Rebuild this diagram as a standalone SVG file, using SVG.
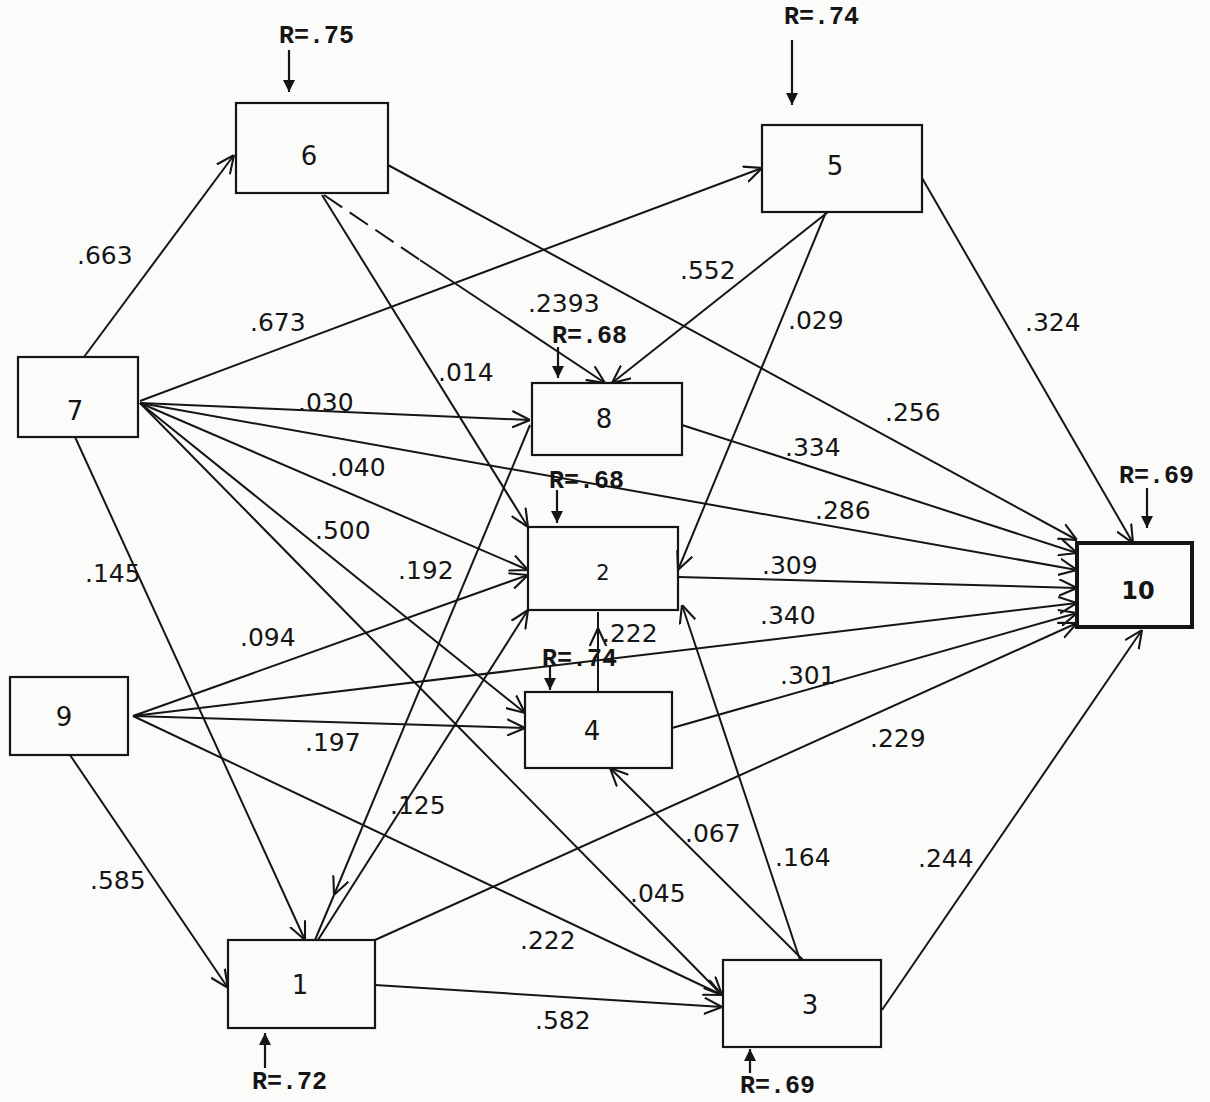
<svg xmlns="http://www.w3.org/2000/svg" width="1210" height="1102" viewBox="0 0 1210 1102">
<defs>
<marker id="a" viewBox="0 0 12 12" refX="12" refY="6" markerWidth="18" markerHeight="18" markerUnits="userSpaceOnUse" orient="auto"><path d="M0,0.5 L12,6 L0,11.5" fill="none" stroke="#151515" stroke-width="1.4"/></marker>
<marker id="f" viewBox="0 0 10 10" refX="10" refY="5" markerWidth="12" markerHeight="12" markerUnits="userSpaceOnUse" orient="auto"><path d="M0,0 L10,5 L0,10 z" fill="#151515"/></marker>
<style>
.box{fill:none;stroke:#151515;stroke-width:2.2}
.c{fill:none;stroke:#151515;stroke-width:2;marker-end:url(#a)}
.p{fill:none;stroke:#151515;stroke-width:2}
.r{fill:none;stroke:#151515;stroke-width:2.2;marker-end:url(#f)}
.n{font-family:"DejaVu Sans","Liberation Sans",sans-serif;font-size:26px;fill:#151515;text-anchor:middle}
.l{font-family:"DejaVu Sans","Liberation Sans",sans-serif;font-size:25px;fill:#151515}
.rt{font-family:"Liberation Mono","DejaVu Sans Mono",monospace;font-size:25px;font-weight:bold;fill:#151515}
</style>
</defs>
<rect width="1210" height="1102" fill="#fbfbf9"/>
<g id="connectors">
<path class="c" d="M84,357 L234,155"/>
<path class="c" d="M140,401 L762,168"/>
<path class="c" d="M140,403 L530,420"/>
<path class="c" d="M140,403 L1077,570"/>
<path class="c" d="M140,403 L528,570"/>
<path class="c" d="M140,403 L525,713"/>
<path class="c" d="M140,403 L722,995"/>
<path class="c" d="M75,437 L305,940"/>
<path class="p" d="M324,195 L420,260" stroke-dasharray="22 9"/>
<path class="c" d="M420,260 L605,383"/>
<path class="c" d="M322,195 L528,527"/>
<path class="c" d="M388,165 L1077,540"/>
<path class="c" d="M828,212 L612,383"/>
<path class="c" d="M826,212 L678,570"/>
<path class="c" d="M922,178 L1133,543"/>
<path class="c" d="M682,425 L1077,553"/>
<path class="c" d="M530,425 L334,895"/>
<path class="p" d="M334,895 L315,940"/>
<path class="c" d="M318,940 L528,610"/>
<path class="c" d="M375,940 L1077,623"/>
<path class="c" d="M375,985 L722,1007"/>
<path class="c" d="M70,755 L228,988"/>
<path class="c" d="M133,716 L528,575"/>
<path class="c" d="M133,716 L1077,603"/>
<path class="c" d="M133,716 L525,728"/>
<path class="c" d="M133,716 L722,995"/>
<path class="c" d="M678,577 L1077,588"/>
<path class="c" d="M598,692 L598,628"/>
<path class="p" d="M598,628 L598,612"/>
<path class="c" d="M672,728 L1077,613"/>
<path class="c" d="M803,960 L610,768"/>
<path class="c" d="M800,960 L682,605"/>
<path class="c" d="M882,1010 L1142,630"/>
<path class="r" d="M289,50 L289,92"/>
<path class="r" d="M792,40 L792,105"/>
<path class="r" d="M558,347 L558,378"/>
<path class="r" d="M557,490 L557,523"/>
<path class="r" d="M550,665 L550,690"/>
<path class="r" d="M1147,488 L1147,528"/>
<path class="r" d="M265,1068 L265,1033"/>
<path class="r" d="M750,1073 L750,1049"/>
</g>
<g id="labels">
<text class="l" x="77" y="264">.663</text>
<text class="l" x="250" y="331">.673</text>
<text class="l" x="298" y="411">.030</text>
<text class="l" x="330" y="476">.040</text>
<text class="l" x="315" y="539">.500</text>
<text class="l" x="398" y="579">.192</text>
<text class="l" x="85" y="582">.145</text>
<text class="l" x="240" y="646">.094</text>
<text class="l" x="305" y="751">.197</text>
<text class="l" x="390" y="814">.125</text>
<text class="l" x="90" y="889">.585</text>
<text class="l" x="520" y="949">.222</text>
<text class="l" x="535" y="1029">.582</text>
<text class="l" x="630" y="902">.045</text>
<text class="l" x="685" y="842">.067</text>
<text class="l" x="775" y="866">.164</text>
<text class="l" x="918" y="867">.244</text>
<text class="l" x="870" y="747">.229</text>
<text class="l" x="780" y="684">.301</text>
<text class="l" x="760" y="624">.340</text>
<text class="l" x="762" y="574">.309</text>
<text class="l" x="815" y="519">.286</text>
<text class="l" x="785" y="456">.334</text>
<text class="l" x="885" y="421">.256</text>
<text class="l" x="1025" y="331">.324</text>
<text class="l" x="788" y="329">.029</text>
<text class="l" x="680" y="279">.552</text>
<text class="l" x="528" y="312">.2393</text>
<text class="l" x="438" y="381">.014</text>
<text class="l" x="602" y="642">.222</text>
<text class="rt" x="279" y="43">R=.75</text>
<text class="rt" x="784" y="24">R=.74</text>
<text class="rt" x="552" y="343">R=.68</text>
<text class="rt" x="549" y="488">R=.68</text>
<text class="rt" x="542" y="666">R=.74</text>
<text class="rt" x="1119" y="483">R=.69</text>
<text class="rt" x="252" y="1089">R=.72</text>
<text class="rt" x="740" y="1093">R=.69</text>
</g>
<g id="n6"><rect class="box" x="236" y="103" width="152" height="90"/><text class="n" x="309" y="165">6</text></g>
<g id="n5"><rect class="box" x="762" y="125" width="160" height="87"/><text class="n" x="835" y="175">5</text></g>
<g id="n7"><rect class="box" x="18" y="357" width="120" height="80"/><text class="n" x="75" y="420">7</text></g>
<g id="n8"><rect class="box" x="532" y="383" width="150" height="72"/><text class="n" x="604" y="428">8</text></g>
<g id="n2"><rect class="box" x="528" y="527" width="150" height="83"/><text class="n" x="603" y="580" style="font-size:21px">2</text></g>
<g id="n4"><rect class="box" x="525" y="692" width="147" height="76"/><text class="n" x="592" y="740">4</text></g>
<g id="n9"><rect class="box" x="10" y="677" width="118" height="78"/><text class="n" x="64" y="726">9</text></g>
<g id="n1"><rect class="box" x="228" y="940" width="147" height="88"/><text class="n" x="300" y="994">1</text></g>
<g id="n3"><rect class="box" x="723" y="960" width="158" height="87"/><text class="n" x="810" y="1014">3</text></g>
<g id="n10"><rect class="box" x="1077" y="543" width="115" height="84" style="stroke-width:4"/><text class="n" x="1138" y="599" style="font-weight:bold;font-size:24px">10</text></g>
</svg>
